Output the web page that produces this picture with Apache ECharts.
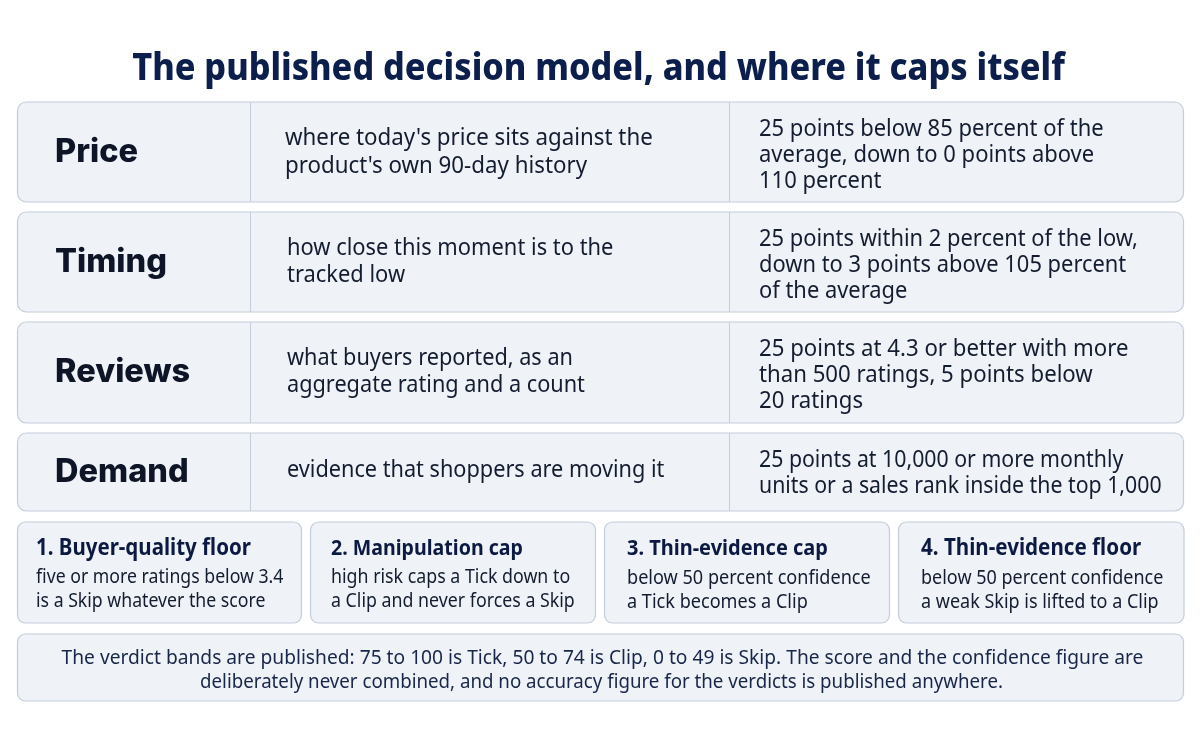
<!DOCTYPE html>
<html>
<head>
<meta charset="utf-8">
<title>Decision model</title>
<script src="https://cdn.jsdelivr.net/npm/echarts@6/dist/echarts.min.js"></script>
<style>
  html, body { margin: 0; padding: 0; background: #fff; }
  #chart { width: 1200px; height: 750px; }
</style>
</head>
<body>
<div id="chart"></div>
<script>
const titleText = 'The published decision model, and where it caps itself';

const rowNames = ['Price', 'Timing', 'Reviews', 'Demand'];
const rowWhat = [
  "where today's price sits against the\nproduct's own 90-day history",
  'how close this moment is to the\ntracked low',
  'what buyers reported, as an\naggregate rating and a count',
  'evidence that shoppers are moving it',
];
const rowPoints = [
  '25 points below 85 percent of the\naverage, down to 0 points above\n110 percent',
  '25 points within 2 percent of the low,\ndown to 3 points above 105 percent\nof the average',
  '25 points at 4.3 or better with more\nthan 500 ratings, 5 points below\n20 ratings',
  '25 points at 10,000 or more monthly\nunits or a sales rank inside the top 1,000',
];

const capTitles = ['1. Buyer-quality floor', '2. Manipulation cap', '3. Thin-evidence cap', '4. Thin-evidence floor'];
const capTexts = [
  'five or more ratings below 3.4\nis a Skip whatever the score',
  'high risk caps a Tick down to\na Clip and never forces a Skip',
  'below 50 percent confidence\na Tick becomes a Clip',
  'below 50 percent confidence\na weak Skip is lifted to a Clip',
];

const footerLines = [
  'The verdict bands are published: 75 to 100 is Tick, 50 to 74 is Clip, 0 to 49 is Skip. The score and the confidence figure are',
  'deliberately never combined, and no accuracy figure for the verdicts is published anywhere.',
];

// layout
const rowBoxes = [[102, 100], [212, 100], [322, 101], [433, 78]];
const whatX = [285, 287, 287, 287];
const whatY = [152, 262, 372, 470];
const whatSize = [22.3, 21.9, 21.7, 21.7];
const pointsY = [155, 265, 375, 473];
const pointsSize = [22, 21.9, 22.2, 21.3];
const capBoxes = [[17.5, 284], [310.5, 285], [604.5, 285], [898.5, 285.5]];
const capTextX = [36, 331, 627, 921];
const capTitleSize = [20.5, 19.6, 20, 20.6];
const capBodySize = [17.7, 17.8, 18.1, 18];
const footerX = [602.5, 601.5];
const footerY = [658, 682];
const footerSize = [19.2, 18.7];

const FONT_HEAD = 'Inter';
const FONT_BODY = '"Noto Sans"';
const BOX_FILL = '#eff2f7';
const BOX_LINE = '#c3cddb';

function box(x, y, w, h, r) {
  return {
    type: 'rect',
    shape: { x, y, width: w, height: h, r },
    style: { fill: BOX_FILL, stroke: BOX_LINE, lineWidth: 1.2 },
  };
}

// squeeze < 1 makes the glyphs taller at the same overall width, the reference type is condensed
function label(x, y, text, size, weight, color, font, lineHeight, align, squeeze) {
  const s = squeeze || 1;
  return {
    type: 'text',
    x,
    y,
    scaleX: s,
    style: {
      text,
      fill: color,
      fontFamily: font,
      fontSize: size / s,
      fontWeight: weight,
      lineHeight,
      align: align || 'left',
      verticalAlign: 'middle',
    },
  };
}

const elements = [];

elements.push(label(598.5, 69, titleText, 34.2, 800, '#0c1f4c', FONT_BODY, 44, 'center', 0.9));

rowNames.forEach((name, i) => {
  const [y, h] = rowBoxes[i];
  const mid = y + h / 2;
  elements.push(box(17.5, y, 1166, h, 9));
  [250.5, 729.5].forEach((x) => {
    elements.push({
      type: 'line',
      shape: { x1: x, y1: y, x2: x, y2: y + h },
      style: { stroke: BOX_LINE, lineWidth: 1 },
    });
  });
  elements.push(label(55, mid, name, 32.5, 800, '#0d1526', FONT_HEAD, 40));
  elements.push(label(whatX[i], whatY[i], rowWhat[i], whatSize[i], 400, '#141d30', FONT_BODY, 27.5, 'left', 0.94));
  elements.push(label(759, pointsY[i], rowPoints[i], pointsSize[i], 400, '#141d30', FONT_BODY, 26, 'left', 0.93));
});

capTitles.forEach((t, i) => {
  const [x, w] = capBoxes[i];
  elements.push(box(x, 522, w, 101, 8));
  elements.push(label(capTextX[i], 548.5, t, capTitleSize[i], 700, '#0c1a42', FONT_BODY, 26, 'left', 0.92));
  elements.push(label(capTextX[i], 590, capTexts[i], capBodySize[i], 400, '#141d30', FONT_BODY, 24, 'left', 0.93));
});

elements.push(box(17.5, 634, 1166, 67, 8));
footerLines.forEach((line, i) => {
  elements.push(label(footerX[i], footerY[i], line, footerSize[i], 400, '#18264a', FONT_BODY, 24, 'center', 0.95));
});

const chart = echarts.init(document.getElementById('chart'), null, { renderer: 'canvas' });
chart.setOption({
  backgroundColor: '#ffffff',
  animation: false,
  graphic: { elements },
});
</script>
</body>
</html>
